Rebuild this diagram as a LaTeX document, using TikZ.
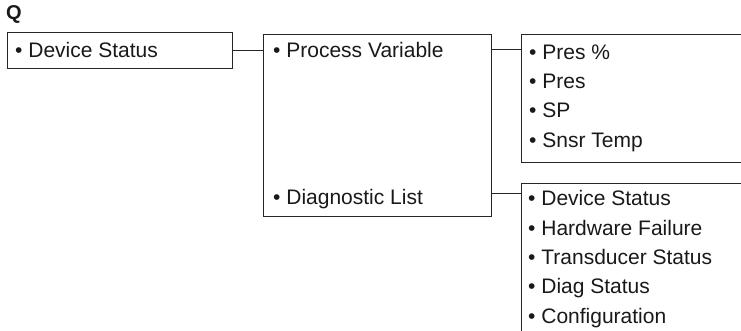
\documentclass[tikz,border=0pt]{standalone}
\usepackage{fontspec}
\setmainfont{Liberation Sans}
\begin{document}
\begin{tikzpicture}[x=1pt,y=-1pt,
  box/.style={draw=black!85, line width=1pt, rectangle, inner sep=0pt, anchor=north west},
  item/.style={anchor=base west, inner sep=0pt, text=black!90, font=\fontsize{21}{25}\selectfont},
  link/.style={draw=black!85, line width=1pt}]
\useasboundingbox (0,0) rectangle (741,330);
\clip (0,0) rectangle (741,330);
% boxes
\node[box, minimum width=225pt, minimum height=36pt] (b1) at (7,32) {};
\node[box, minimum width=228pt, minimum height=182pt] (b2) at (263,34) {};
\node[box, minimum width=240pt, minimum height=128pt] (b3) at (521,34) {};
\node[box, minimum width=240pt, minimum height=170pt] (b4) at (521,183) {};
% title
\node[item, font=\fontsize{20}{24}\selectfont\bfseries] (q) at (6,19) {Q};
% texts
\node[item] (t1) at (15,57) {• Device Status};
\node[item] (pv) at (273,57) {• Process Variable};
\node[item] (dl) at (273,204) {• Diagnostic List};
\node[item] (a1) at (529,59) {• Pres \%};
\node[item] (a2) at (529,88) {• Pres};
\node[item] (a3) at (529,117) {• SP};
\node[item] (a4) at (529,147) {• Snsr Temp};
\node[item] (d1) at (528,205) {• Device Status};
\node[item] (d2) at (528,235) {• Hardware Failure};
\node[item] (d3) at (528,264) {• Transducer Status};
\node[item] (d4) at (528,293) {• Diag Status};
\node[item] (d5) at (528,323) {• Configuration};
% connectors
\coordinate (c2) at (0,49);
\coordinate (c3) at (0,193);
\draw[link] (b1.east) -- (b2.west |- b1.east);
\draw[link] (b2.east |- c2) -- (b3.west |- c2);
\draw[link] (b2.east |- c3) -- (b4.west |- c3);
\end{tikzpicture}
\end{document}
